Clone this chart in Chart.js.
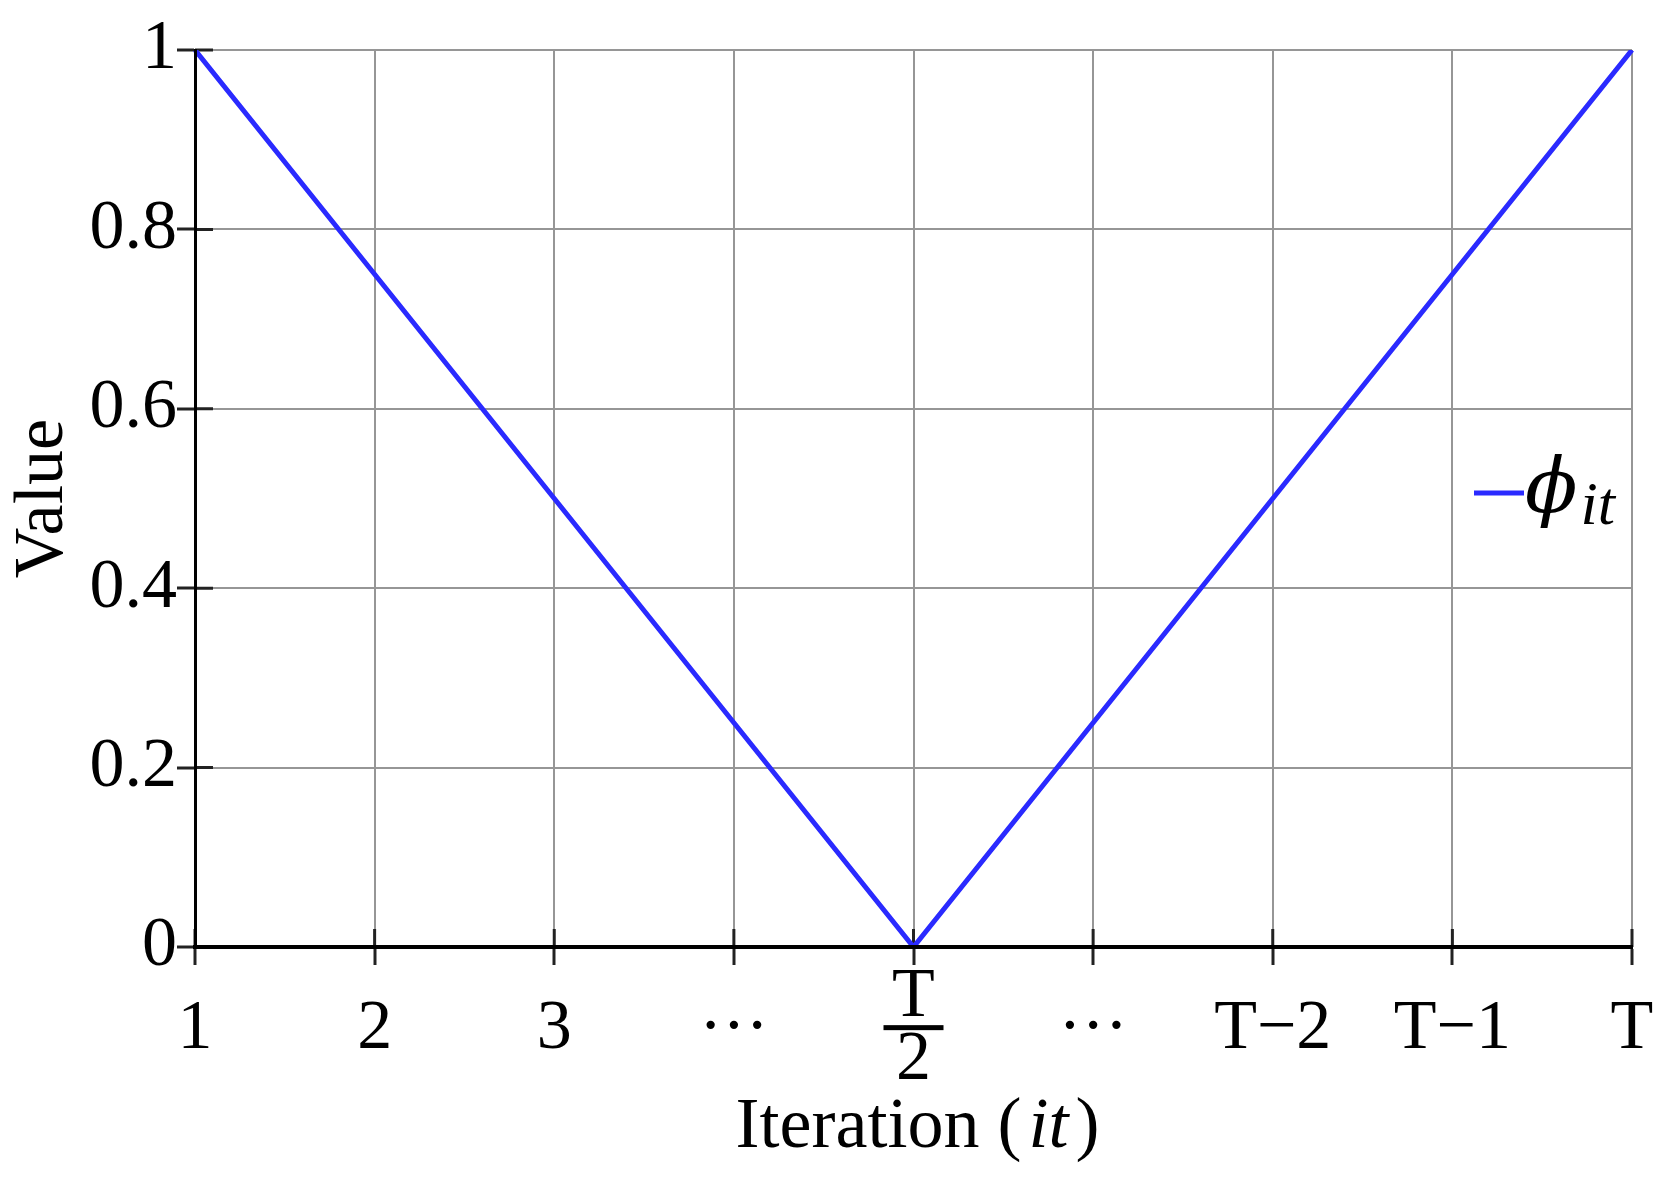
<!DOCTYPE html>
<html>
<head>
<meta charset="utf-8">
<script src="https://cdn.jsdelivr.net/npm/chart.js@4.4.1/dist/chart.umd.min.js"></script>
<style>
  html, body { margin: 0; padding: 0; background: #fff; }
  #wrap { width: 1669px; height: 1177px; position: relative; }
</style>
</head>
<body>
<div id="wrap"><canvas id="chart"></canvas></div>
<script>
const SERIF = "'Liberation Serif', 'Times New Roman', 'DejaVu Serif', serif";

// data
const xLabels = ['1', '2', '3', '···', ['T', '2'], '···', 'T\u22122', 'T\u22121', 'T'];
const phiValues = [1, 0.75, 0.5, 0.25, 0, 0.25, 0.5, 0.75, 1];
const yTickLabels = ['0', '0.2', '0.4', '0.6', '0.8', '1'];
const seriesName = '\u03D5';
const seriesSub = 'it';

const LINE_COLOR = '#2a2aff';
const GRID_COLOR = '#969696';
const TICK_COLOR = '#222222';
const TICK_LEN = 18;
const X_TICK_PAD = 33;
const X_LINE_HEIGHT = 0.89;
const TICK_SIZE = 70;

// inner tick marks, fraction bar, legend and the x title
const decorations = {
  id: 'decorations',
  beforeDatasetsDraw(chart) {
    const {ctx, chartArea, scales: {x, y}} = chart;
    ctx.save();
    ctx.strokeStyle = TICK_COLOR;
    ctx.lineWidth = 3;
    ctx.beginPath();
    x.ticks.forEach((t, i) => {
      const px = x.getPixelForTick(i);
      ctx.moveTo(px, chartArea.bottom);
      ctx.lineTo(px, chartArea.bottom - TICK_LEN);
    });
    y.ticks.forEach((t, i) => {
      const py = y.getPixelForTick(i);
      ctx.moveTo(chartArea.left, py);
      ctx.lineTo(chartArea.left + TICK_LEN, py);
    });
    ctx.stroke();
    ctx.restore();
  },
  afterDraw(chart) {
    const {ctx, chartArea, scales: {x}} = chart;
    ctx.save();

    // fraction bar under the "T" of T/2
    const half = xLabels.findIndex((l) => Array.isArray(l));
    const fx = x.getPixelForTick(half);
    const fy = chartArea.bottom + TICK_LEN + X_TICK_PAD + TICK_SIZE * X_LINE_HEIGHT / 2 - 2;
    ctx.fillStyle = '#000';
    ctx.fillRect(fx - 30, fy - 2, 60, 5);

    // legend
    const lx = chartArea.right - 158;
    const ly = chartArea.top + 443;
    ctx.strokeStyle = LINE_COLOR;
    ctx.lineWidth = 5;
    ctx.beginPath();
    ctx.moveTo(lx, ly);
    ctx.lineTo(lx + 50, ly);
    ctx.stroke();
    ctx.fillStyle = '#000';
    ctx.textBaseline = 'alphabetic';
    ctx.textAlign = 'left';
    ctx.font = "italic 77px 'DejaVu Serif', serif";
    ctx.fillText(seriesName, lx + 51, ly + 19);
    const pw = ctx.measureText(seriesName).width;
    ctx.font = `italic 62px ${SERIF}`;
    ctx.fillText(seriesSub, lx + 54 + pw, ly + 31);

    // x axis title with italic "it"
    const parts = [
      {t: 'Iteration (', f: `72px ${SERIF}`, pad: 0},
      {t: 'it', f: `italic 72px ${SERIF}`, pad: 14},
      {t: ')', f: `72px ${SERIF}`, pad: 0}
    ];
    let total = 0;
    parts.forEach((p) => {
      ctx.font = p.f;
      p.w = ctx.measureText(p.t).width + p.pad;
      total += p.w;
    });
    let tx = (chartArea.left + chartArea.right) / 2 + 4 - total / 2;
    parts.forEach((p) => {
      ctx.font = p.f;
      ctx.fillText(p.t, tx + p.pad / 2, 1147);
      tx += p.w;
    });
    ctx.restore();
  }
};

new Chart(document.getElementById('chart'), {
  type: 'line',
  data: {
    labels: xLabels,
    datasets: [{
      label: seriesName + seriesSub,
      data: phiValues,
      borderColor: LINE_COLOR,
      borderWidth: 5,
      pointRadius: 0,
      tension: 0,
      fill: false
    }]
  },
  options: {
    responsive: true,
    maintainAspectRatio: false,
    animation: false,
    layout: {padding: {top: 50, right: 37, left: 0, bottom: 0}},
    plugins: {
      legend: {display: false},
      tooltip: {enabled: false}
    },
    scales: {
      x: {
        type: 'category',
        offset: false,
        grid: {
          color: GRID_COLOR,
          lineWidth: 2,
          tickColor: TICK_COLOR,
          tickLength: TICK_LEN,
          tickWidth: 3
        },
        border: {color: '#000', width: 4, z: 1},
        ticks: {
          color: '#000',
          font: {family: SERIF, size: TICK_SIZE, lineHeight: X_LINE_HEIGHT},
          padding: X_TICK_PAD,
          crossAlign: 'center',
          maxRotation: 0,
          autoSkip: false
        },
        afterFit(scale) {
          scale.height = 230;
          scale.paddingLeft = 0;
          scale.paddingRight = 0;
        }
      },
      y: {
        min: 0,
        max: 1,
        grid: {
          color: GRID_COLOR,
          lineWidth: 2,
          tickColor: TICK_COLOR,
          tickLength: TICK_LEN,
          tickWidth: 3
        },
        border: {color: '#000', width: 3, z: 1},
        ticks: {
          stepSize: 0.2,
          color: '#000',
          padding: 0,
          font: {family: SERIF, size: TICK_SIZE},
          callback: (v, i) => yTickLabels[i]
        },
        title: {
          display: true,
          text: 'Value',
          color: '#000',
          font: {family: SERIF, size: 70},
          padding: {top: 2, bottom: 0}
        },
        afterFit(scale) { scale.width = 195; }
      }
    }
  },
  plugins: [decorations]
});
</script>
</body>
</html>
